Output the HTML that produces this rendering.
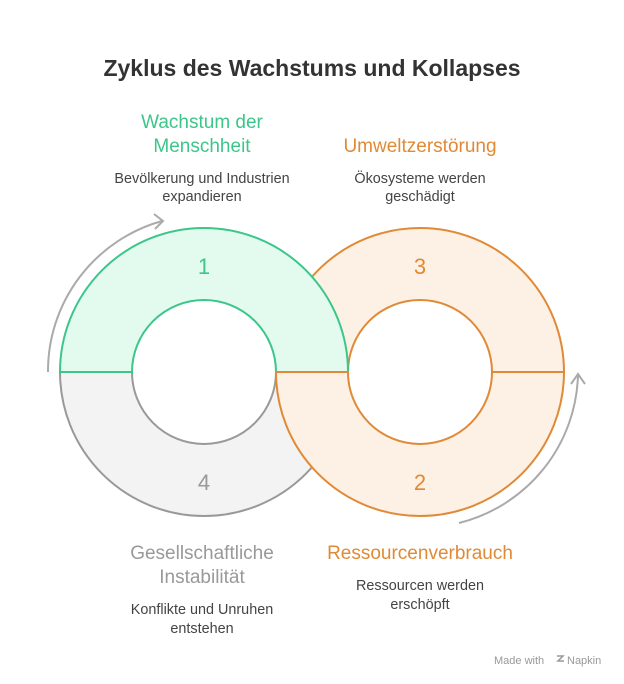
<!DOCTYPE html>
<html><head><meta charset="utf-8"><style>
body{margin:0;background:#fff;}
svg{display:block;font-family:"Liberation Sans",sans-serif;}
</style></head><body>
<svg width="624" height="684" viewBox="0 0 624 684">
<text x="312" y="76" text-anchor="middle" font-size="23" font-weight="bold" fill="#333">Zyklus des Wachstums und Kollapses</text>
<path d="M276,372 A144,144 0 0 1 564,372 L492,372 A72,72 0 0 0 348,372 Z" fill="#fdf0e4" stroke="#e08a35" stroke-width="2"/>
<path d="M60,372 A144,144 0 0 0 348,372 L276,372 A72,72 0 0 1 132,372 Z" fill="#f3f3f3" stroke="#999" stroke-width="2"/>
<path d="M60,372 A144,144 0 0 1 348,372 L276,372 A72,72 0 0 0 132,372 Z" fill="#e3faef" stroke="#3cc68a" stroke-width="2"/>
<path d="M276,372 A144,144 0 0 0 564,372 L492,372 A72,72 0 0 1 348,372 Z" fill="#fdf0e4" stroke="#e08a35" stroke-width="2"/>
<path d="M48,372 A156,156 0 0 1 162,221" fill="none" stroke="#aaa" stroke-width="2"/>
<path d="M154,214 L163,221 L155,229" fill="none" stroke="#aaa" stroke-width="2"/>
<path d="M459,523 A157,157 0 0 0 578,375" fill="none" stroke="#aaa" stroke-width="2"/>
<path d="M571,384 L578,374 L585,384" fill="none" stroke="#aaa" stroke-width="2"/>
<g font-size="22" text-anchor="middle">
<text x="204" y="274" fill="#3cc68a">1</text>
<text x="420" y="274" fill="#e08a35">3</text>
<text x="204" y="490" fill="#999">4</text>
<text x="420" y="490" fill="#e08a35">2</text>
</g>
<g font-size="19" text-anchor="middle">
<text x="202" y="128" fill="#3cc68a">Wachstum der</text>
<text x="202" y="152" fill="#3cc68a">Menschheit</text>
<text x="420" y="152" fill="#e08a35">Umweltzerstörung</text>
<text x="202" y="559" fill="#999">Gesellschaftliche</text>
<text x="202" y="583" fill="#999">Instabilität</text>
<text x="420" y="559" fill="#e08a35">Ressourcenverbrauch</text>
</g>
<g font-size="14.4" text-anchor="middle" fill="#444">
<text x="202" y="183">Bevölkerung und Industrien</text>
<text x="202" y="201">expandieren</text>
<text x="420" y="183">Ökosysteme werden</text>
<text x="420" y="201">geschädigt</text>
<text x="202" y="614">Konflikte und Unruhen</text>
<text x="202" y="633">entstehen</text>
<text x="420" y="590">Ressourcen werden</text>
<text x="420" y="609">erschöpft</text>
</g>
<text x="494" y="664" font-size="11" fill="#999">Made with</text>
<path d="M557,656 l6,0 l-5,5 l6,0" fill="none" stroke="#999" stroke-width="1.5"/>
<text x="567" y="664" font-size="11" fill="#999">Napkin</text>
</svg>
</body></html>
